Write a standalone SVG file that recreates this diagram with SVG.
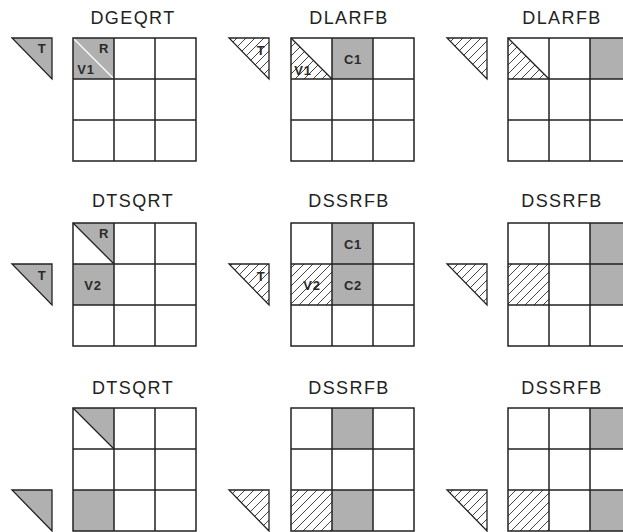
<svg xmlns="http://www.w3.org/2000/svg" xmlns:xlink="http://www.w3.org/1999/xlink" width="623" height="532" viewBox="0 0 623 532">
<style>
.t{font-family:"Liberation Sans",Arial,sans-serif;font-size:18px;letter-spacing:1.4px;text-anchor:middle;fill:#222}
.l{font-family:"Liberation Sans",Arial,sans-serif;font-size:13px;font-weight:bold;letter-spacing:0.8px;text-anchor:middle;fill:#2a2a2a}
.g{fill:#b0b0b0}
.h{fill:url(#hatch)}
.grid{fill:none;stroke:#222;stroke-width:1.5}
.tri{stroke:#222;stroke-width:1.3}
.d{stroke:#222;stroke-width:1.3}
.w{stroke:#fff;stroke-width:1.3}
</style>
<defs>
<pattern id="hatch" patternUnits="userSpaceOnUse" width="9" height="9"><path d="M-2,2 L2,-2 M0,9 L9,0 M7,11 L11,7" stroke="#222" stroke-width="0.85"/></pattern>
<path id="grid" d="M0,0 H123 V123 H0 Z M41,0 V123 M82,0 V123 M0,41 H123 M0,82 H123" class="grid"/>
</defs>
<rect width="623" height="532" fill="#fff"/>

<g id="p1" transform="translate(73,38)">
<text class="t" x="60" y="-14">DGEQRT</text>
<polygon class="g tri" points="-61,0 -21,0 -21,41"/>
<text class="l" x="-31" y="15">T</text>
<rect class="g" x="0" y="0" width="41" height="41"/>
<line class="w" x1="0" y1="0" x2="41" y2="41"/>
<text class="l" x="31" y="15">R</text>
<text class="l" x="13" y="36">V1</text>
<use xlink:href="#grid"/>
</g>

<g id="p2" transform="translate(291,38)">
<text class="t" x="58" y="-14">DLARFB</text>
<text class="l" x="-30" y="17">T</text>
<polygon class="h tri" points="-62,0 -22,0 -22,41"/>
<text class="l" x="12" y="37">V1</text>
<polygon class="h" points="0,0 0,41 41,41"/>
<line class="d" x1="0" y1="0" x2="41" y2="41"/>
<rect class="g" x="41" y="0" width="41" height="41"/>
<text class="l" x="62" y="26">C1</text>
<use xlink:href="#grid"/>
</g>

<g id="p3" transform="translate(508,38)">
<text class="t" x="54" y="-14">DLARFB</text>
<polygon class="h tri" points="-61,0 -21,0 -21,41"/>
<polygon class="h" points="0,0 0,41 41,41"/>
<line class="d" x1="0" y1="0" x2="41" y2="41"/>
<rect class="g" x="82" y="0" width="41" height="41"/>
<use xlink:href="#grid"/>
</g>

<g id="p4" transform="translate(73,223)">
<text class="t" x="60" y="-16">DTSQRT</text>
<polygon class="g tri" points="-61,41 -21,41 -21,82"/>
<text class="l" x="-31" y="57">T</text>
<polygon class="g" points="0,0 41,0 41,41"/>
<line class="d" x1="0" y1="0" x2="41" y2="41"/>
<text class="l" x="31" y="15">R</text>
<rect class="g" x="0" y="41" width="41" height="41"/>
<text class="l" x="20" y="67">V2</text>
<use xlink:href="#grid"/>
</g>

<g id="p5" transform="translate(291,223)">
<text class="t" x="58" y="-16">DSSRFB</text>
<text class="l" x="-30" y="58">T</text>
<polygon class="h tri" points="-62,41 -22,41 -22,82"/>
<rect class="g" x="41" y="0" width="41" height="41"/>
<text class="l" x="62" y="26">C1</text>
<rect class="g" x="41" y="41" width="41" height="41"/>
<text class="l" x="62" y="67">C2</text>
<text class="l" x="21" y="67">V2</text>
<rect class="h" x="0" y="41" width="41" height="41"/>
<use xlink:href="#grid"/>
</g>

<g id="p6" transform="translate(508,223)">
<text class="t" x="54" y="-16">DSSRFB</text>
<polygon class="h tri" points="-61,41 -21,41 -21,82"/>
<rect class="g" x="82" y="0" width="41" height="41"/>
<rect class="g" x="82" y="41" width="41" height="41"/>
<rect class="h" x="0" y="41" width="41" height="41"/>
<use xlink:href="#grid"/>
</g>

<g id="p7" transform="translate(73,408)">
<text class="t" x="60" y="-14">DTSQRT</text>
<polygon class="g tri" points="-61,82 -21,82 -21,123"/>
<polygon class="g" points="0,0 41,0 41,41"/>
<line class="d" x1="0" y1="0" x2="41" y2="41"/>
<rect class="g" x="0" y="82" width="41" height="41"/>
<use xlink:href="#grid"/>
</g>

<g id="p8" transform="translate(291,408)">
<text class="t" x="58" y="-14">DSSRFB</text>
<polygon class="h tri" points="-62,82 -22,82 -22,123"/>
<rect class="g" x="41" y="0" width="41" height="41"/>
<rect class="g" x="41" y="82" width="41" height="41"/>
<rect class="h" x="0" y="82" width="41" height="41"/>
<use xlink:href="#grid"/>
</g>

<g id="p9" transform="translate(508,408)">
<text class="t" x="54" y="-14">DSSRFB</text>
<polygon class="h tri" points="-61,82 -21,82 -21,123"/>
<rect class="g" x="82" y="0" width="41" height="41"/>
<rect class="g" x="82" y="82" width="41" height="41"/>
<rect class="h" x="0" y="82" width="41" height="41"/>
<use xlink:href="#grid"/>
</g>
</svg>
